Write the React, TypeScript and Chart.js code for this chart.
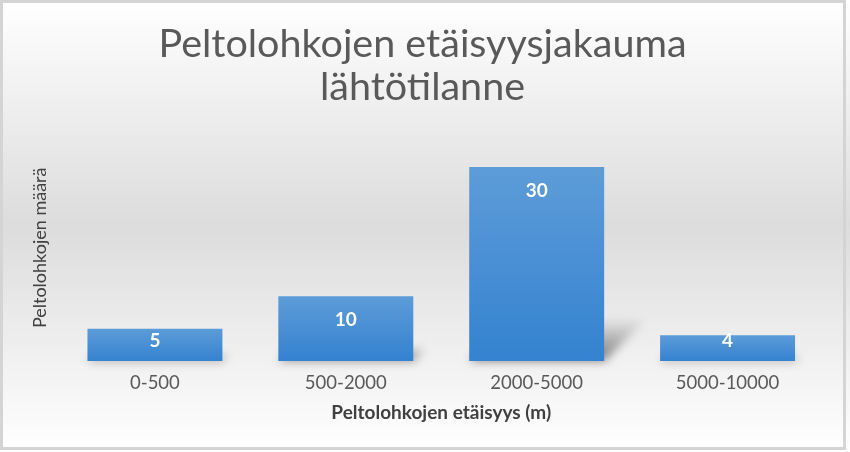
import React, { useEffect, useRef } from "react";
import { Chart, registerables } from "chart.js";

Chart.register(...registerables);

const categories = ["0-500", "500-2000", "2000-5000", "5000-10000"];
const values = [5, 10, 30, 4];
const titleLines = ["Peltolohkojen etäisyysjakauma", "lähtötilanne"];
const xTitle = "Peltolohkojen etäisyys (m)";
const yTitle = "Peltolohkojen määrä";

const FONT = "Lato, 'Open Sans', sans-serif";

const bgPlugin = {
  id: "bg",
  beforeDraw(chart: any) {
    const { ctx, width, height } = chart;
    ctx.save();
    const g = ctx.createLinearGradient(0, 0, 0, height);
    g.addColorStop(0, "#ffffff");
    g.addColorStop(0.5, "#dcdcdc");
    g.addColorStop(1, "#ffffff");
    ctx.fillStyle = g;
    ctx.fillRect(0, 0, width, height);
    ctx.strokeStyle = "#d4d4d4";
    ctx.lineWidth = 3;
    ctx.strokeRect(1.5, 1.5, width - 7, height - 5);
    ctx.restore();
  },
};

const shadowPlugin = {
  id: "barShadow",
  beforeDatasetsDraw(chart: any) {
    const { ctx } = chart;
    const meta = chart.getDatasetMeta(0);
    ctx.save();
    meta.data.forEach((bar: any) => {
      const half = bar.width / 2;
      const left = bar.x - half;
      const right = bar.x + half;
      const top = bar.y;
      const bottom = bar.base;
      const h = bottom - top;
      const d = h * 0.22;
      const g = ctx.createLinearGradient(0, bottom, 0, bottom - d);
      g.addColorStop(0, "rgba(0,0,0,0.5)");
      g.addColorStop(1, "rgba(0,0,0,0.0)");
      ctx.filter = "blur(5px)";
      ctx.fillStyle = g;
      ctx.beginPath();
      ctx.moveTo(left, bottom);
      ctx.lineTo(right, bottom);
      ctx.lineTo(right + d, bottom - d);
      ctx.lineTo(left + d, bottom - d);
      ctx.closePath();
      ctx.fill();
    });
    ctx.restore();
  },
};

const labelPlugin = {
  id: "valueLabels",
  afterDatasetsDraw(chart: any) {
    const { ctx } = chart;
    const meta = chart.getDatasetMeta(0);
    ctx.save();
    ctx.fillStyle = "#ffffff";
    ctx.font = `bold 19px ${FONT}`;
    ctx.textAlign = "center";
    ctx.textBaseline = "middle";
    meta.data.forEach((bar: any, i: number) => {
      const y = Math.min(bar.y + 24, bar.base - 20);
      ctx.fillText(String(values[i]), bar.x, y);
    });
    ctx.restore();
  },
};

export default function App() {
  const ref = useRef<HTMLCanvasElement>(null);
  useEffect(() => {
    document.body.style.margin = "0";
    const chart = new Chart(ref.current as HTMLCanvasElement, {
      type: "bar",
      data: {
        labels: categories,
        datasets: [
          {
            data: values,
            backgroundColor: (c: any) => {
              const ch = c.chart;
              const area = ch.chartArea;
              if (!area || c.dataIndex === undefined) return "#4a90d4";
              const ys = ch.scales.y;
              const top = ys.getPixelForValue(values[c.dataIndex]);
              const bottom = ys.getPixelForValue(0);
              const g = ch.ctx.createLinearGradient(0, top, 0, bottom);
              g.addColorStop(0, "#5d9cd8");
              g.addColorStop(1, "#3482d0");
              return g;
            },
            borderWidth: 0,
            categoryPercentage: 0.707,
            barPercentage: 1,
          },
        ],
      },
      options: {
        responsive: false,
        animation: false,
        layout: { padding: { left: 22, right: 27, top: 0, bottom: 23.6 } },
        plugins: {
          legend: { display: false },
          tooltip: { enabled: false },
          title: {
            display: true,
            text: titleLines,
            color: "#595959",
            font: { family: FONT, size: 39.5, weight: "normal", lineHeight: 1.09 },
            padding: { top: 23, bottom: 25.5 },
          },
        },
        scales: {
          x: {
            grid: { display: false, drawTicks: false },
            border: { display: false },
            ticks: {
              color: "#595959",
              font: { family: FONT, size: 18.5, lineHeight: 1.2 },
              padding: 11,
            },
            title: {
              display: true,
              text: xTitle,
              color: "#404040",
              font: { family: FONT, size: 19, weight: "bold", lineHeight: 1.2 },
              padding: { top: -3.6, bottom: 4 },
            },
          },
          y: {
            min: 0,
            max: 35,
            grid: { display: false, drawTicks: false },
            border: { display: false },
            ticks: { display: false },
            title: {
              display: true,
              text: yTitle,
              color: "#404040",
              font: { family: FONT, size: 18, lineHeight: 1.2 },
              padding: { top: 7.2, bottom: 8.7 },
            },
          },
        },
      },
      plugins: [bgPlugin, shadowPlugin, labelPlugin],
    });
    return () => chart.destroy();
  }, []);
  return (
    <div style={{ position: "absolute", left: 0, top: 0, width: 850, height: 452 }}>
      <canvas ref={ref} width={850} height={452} style={{ width: 850, height: 452, display: "block" }} />
    </div>
  );
}
